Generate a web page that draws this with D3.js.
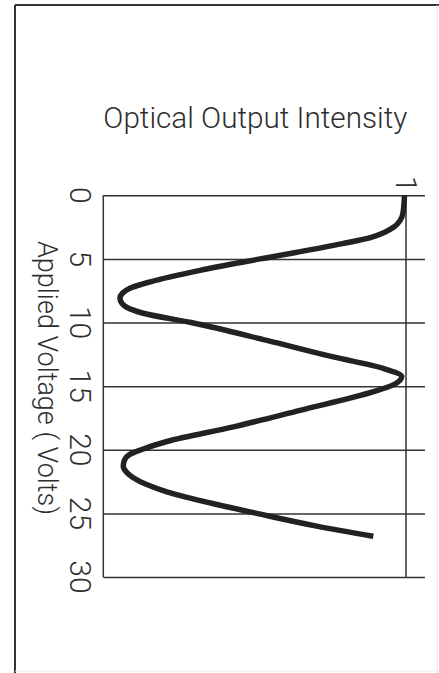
<!DOCTYPE html>
<html>
<head>
<meta charset="utf-8">
<script src="https://cdn.jsdelivr.net/npm/d3@7"></script>
<style>
  html, body { margin: 0; padding: 0; background: #fff; }
  svg { display: block; }
  text { font-family: Roboto, "Liberation Sans", Arial, sans-serif; font-weight: 300; fill: #2e2e2e; }
</style>
</head>
<body>
<div id="chart"></div>
<script>
// data (voltage in volts, normalised intensity)
const voltage = [0, 1.4, 2.0, 2.5, 2.9, 3.3, 3.8, 5.0, 5.9, 6.8, 7.3, 7.7, 8.1, 8.5, 8.8, 9.27, 10,
    11.4, 12.7, 13.6, 14.25, 14.9, 15.45, 16.9, 18.2, 19.35, 20, 20.4, 20.8, 21.3, 21.8, 22.2, 23.3, 24.3, 25, 26, 26.8];
const intensity = [0.995, 0.99, 0.98, 0.96, 0.93, 0.885, 0.79, 0.518, 0.32, 0.155, 0.088, 0.063, 0.055, 0.062, 0.077, 0.132, 0.29,
    0.54, 0.76, 0.925, 0.986, 0.958, 0.89, 0.65, 0.43, 0.21, 0.125, 0.085, 0.07, 0.066, 0.078, 0.099, 0.21, 0.375, 0.507, 0.705, 0.892];
const voltTicks = [0, 5, 10, 15, 20, 25, 30];
const intensityTicks = [0, 1];
const intensityLabels = ["1"];

const W = 439, H = 673;

const svg = d3.select("#chart")
    .append("svg")
    .attr("width", W)
    .attr("height", H);

// outer frame of the scanned page
svg.append("line").attr("x1", 15).attr("y1", 5).attr("x2", W).attr("y2", 5)
    .style("stroke", "#333").style("stroke-width", 2);
svg.append("line").attr("x1", 15).attr("y1", 5).attr("x2", 15).attr("y2", H)
    .style("stroke", "#333").style("stroke-width", 2);
svg.append("line").attr("x1", 437).attr("y1", 5).attr("x2", 437).attr("y2", H)
    .style("stroke", "#e6e6e6").style("stroke-width", 1);
svg.append("line").attr("x1", 15).attr("y1", 671).attr("x2", W).attr("y2", 671)
    .style("stroke", "#ececec").style("stroke-width", 1);

// scales: voltage runs down the page, intensity runs across
const y = d3.scaleLinear().domain([0, 30]).range([195.3, 577]);
const x = d3.scaleLinear().domain([0, 1]).range([103.3, 406]);

// horizontal grid lines at each voltage tick
const grid = svg.append("g")
    .attr("transform", `translate(${x(0)}, 0)`)
    .call(d3.axisRight(y).tickValues(voltTicks).tickSize(425 - x(0)).tickFormat(""));
grid.select(".domain").remove();
grid.selectAll(".tick line").style("stroke", "#333").style("stroke-width", 1.5);

// vertical lines at intensity 0 and 1
svg.selectAll(".vline")
    .data(intensityTicks)
    .join("line")
    .attr("class", "vline")
    .attr("x1", d => x(d)).attr("x2", d => x(d))
    .attr("y1", y(0)).attr("y2", y(30))
    .style("stroke", "#333")
    .style("stroke-width", 1.5);

// voltage tick labels, turned a quarter clockwise
svg.selectAll(".vlabel")
    .data(voltTicks)
    .join("text")
    .attr("class", "vlabel")
    .attr("transform", d => `translate(80.5, ${y(d)}) rotate(90)`)
    .attr("text-anchor", "middle")
    .attr("dominant-baseline", "central")
    .style("font-size", "30px")
    .text(d => d);

// intensity label "1"
svg.selectAll(".ilabel")
    .data(intensityLabels)
    .join("text")
    .attr("class", "ilabel")
    .attr("transform", d => `translate(${x(+d)}, 184) rotate(90)`)
    .attr("text-anchor", "middle")
    .attr("dominant-baseline", "central")
    .style("font-size", "30px")
    .text(d => d);

// axis titles
svg.append("text")
    .attr("x", x(0))
    .attr("y", 128)
    .attr("textLength", 304)
    .attr("lengthAdjust", "spacingAndGlyphs")
    .style("font-size", "30px")
    .text("Optical Output Intensity");

svg.append("text")
    .attr("transform", `translate(47, 378) rotate(90)`)
    .attr("text-anchor", "middle")
    .attr("dominant-baseline", "central")
    .attr("textLength", 274)
    .attr("lengthAdjust", "spacingAndGlyphs")
    .style("font-size", "27px")
    .text("Applied Voltage ( Volts)");

// the response curve
const points = voltage.map((v, i) => [v, intensity[i]]);
const line = d3.line()
    .x(d => x(d[1]))
    .y(d => y(d[0]))
    .curve(d3.curveMonotoneY);

svg.append("path")
    .datum(points)
    .attr("d", line)
    .style("fill", "none")
    .style("stroke", "#222")
    .style("stroke-width", 5.5)
    .style("stroke-linecap", "butt")
    .style("stroke-linejoin", "round");
</script>
</body>
</html>
